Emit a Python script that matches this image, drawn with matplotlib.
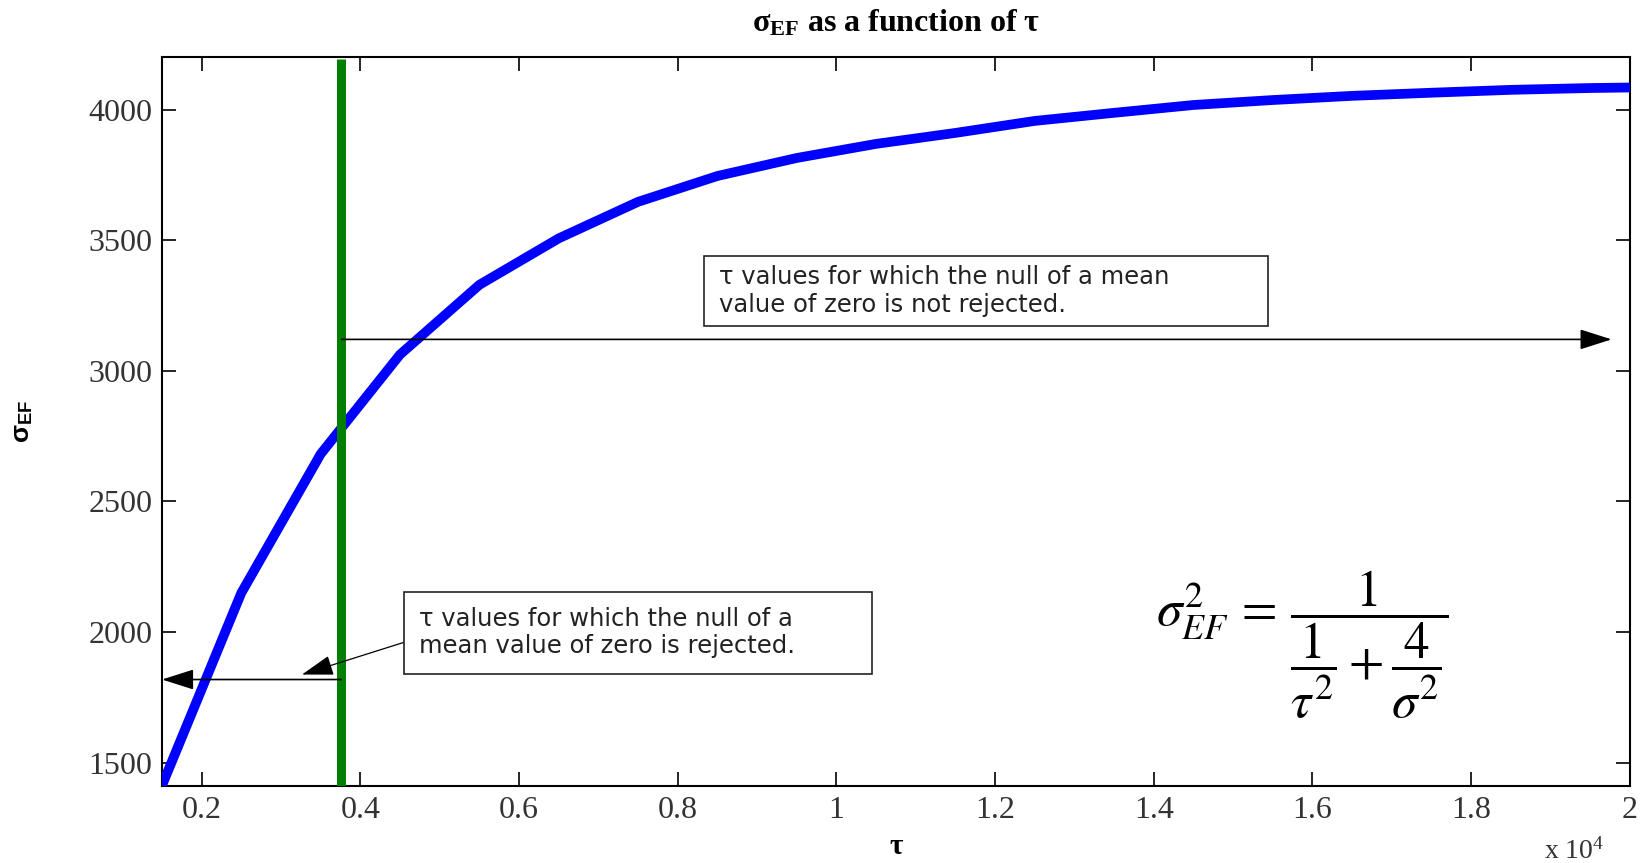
import matplotlib
matplotlib.use("Agg")
import matplotlib.pyplot as plt
from matplotlib.patches import Rectangle
from matplotlib.ticker import FuncFormatter

tau = [1500, 2500, 3500, 4500, 5500, 6500, 7500, 8500, 9500, 10500,
       11500, 12500, 13500, 14500, 15500, 16500, 17500, 18500, 19500, 20000]
sigma_ef = [1412, 2150, 2682, 3063, 3330, 3508, 3648, 3747, 3816, 3870,
            3912, 3958, 3989, 4019, 4038, 4054, 4066, 4077, 4084, 4086]

tau_cut = 3760          # green vertical line
y_lo, y_hi = 1410, 4203
x_ticks = [2000, 4000, 6000, 8000, 10000, 12000, 14000, 16000, 18000, 20000]
y_ticks = [1500, 2000, 2500, 3000, 3500, 4000]

txt_reject = "\u03c4 values for which the null of a\nmean value of zero is rejected."
txt_keep = "\u03c4 values for which the null of a mean\nvalue of zero is not rejected."

plt.rcParams['mathtext.fontset'] = 'custom'
plt.rcParams['mathtext.rm'] = 'Liberation Serif'
plt.rcParams['mathtext.it'] = 'Liberation Serif:italic'
plt.rcParams['mathtext.bf'] = 'Liberation Serif:bold'

fig = plt.figure(figsize=(16.48, 8.63), dpi=100)
ax = fig.add_axes([0.0983, 0.0892, 0.8907, 0.8448])

ax.plot(tau, sigma_ef, color='#0000ff', lw=7, solid_capstyle='butt', zorder=3)
ax.plot([tau_cut, tau_cut], [y_lo, 4195], color='#007f00', lw=6.5,
        solid_capstyle='butt', zorder=4)

ax.set_xlim(1500, 20000)
ax.set_ylim(y_lo, y_hi)
ax.set_xticks(x_ticks)
ax.set_yticks(y_ticks)
ax.xaxis.set_major_formatter(FuncFormatter(lambda v, p: f"{v / 1e4:g}"))
ax.tick_params(direction='in', length=10, width=1.2, top=True, right=True,
               labelsize=23, labelcolor='#333333', pad=7)
for lab in ax.get_xticklabels() + ax.get_yticklabels():
    lab.set_family('Liberation Serif')
for s in ax.spines.values():
    s.set_linewidth(1.5)

ax.set_title("\u03c3$_\\mathregular{EF}$ as a function of \u03c4", family='Liberation Serif',
             weight='bold', fontsize=23, pad=18)
ax.set_xlabel("\u03c4", family='Liberation Serif', weight='bold', fontsize=21, labelpad=6)
ax.set_ylabel("\u03c3$_\\mathregular{EF}$", family='Liberation Sans', weight='bold',
              fontsize=19, labelpad=38)
fig.text(0.955, 0.013, "x 10$^\\mathregular{4}$", family='Liberation Serif', fontsize=20,
         color='#333333', ha='center', va='center')

# arrows
arr = dict(arrowstyle='-|>,head_length=1.1,head_width=0.35', color='black', lw=1.2,
           shrinkA=0, shrinkB=0, mutation_scale=18)
ax.annotate("", xy=(1500, 1818), xytext=(tau_cut, 1818), arrowprops=arr, zorder=5)
ax.annotate("", xy=(19770, 3121), xytext=(tau_cut, 3121), arrowprops=arr, zorder=5)
ax.annotate("", xy=(3264, 1837), xytext=(4545, 1960),
            arrowprops=dict(arr, lw=0.9), zorder=5)

# text boxes
ax.add_patch(Rectangle((4545, 1841), 10450 - 4545, 2155 - 1841, fill=False,
                       ec='#222222', lw=1.2, zorder=5))
ax.text(4740, 1998, txt_reject, family='DejaVu Sans', fontsize=17.5,
        color='#222222', va='center', ha='left', linespacing=1.2)
ax.add_patch(Rectangle((8330, 3172), 15440 - 8330, 3441 - 3172, fill=False,
                       ec='#222222', lw=1.2, zorder=5))
ax.text(8520, 3306, txt_keep, family='DejaVu Sans', fontsize=17.5,
        color='#222222', va='center', ha='left', linespacing=1.2)

ax.text(15870, 1950,
        r"$\sigma^2_{EF} \,=\, \dfrac{1}{\dfrac{1}{\tau^2}+\dfrac{4}{\sigma^2}}$",
        math_fontfamily='stix', fontsize=37, ha='center', va='center')

fig.savefig("out.png", dpi=100)
